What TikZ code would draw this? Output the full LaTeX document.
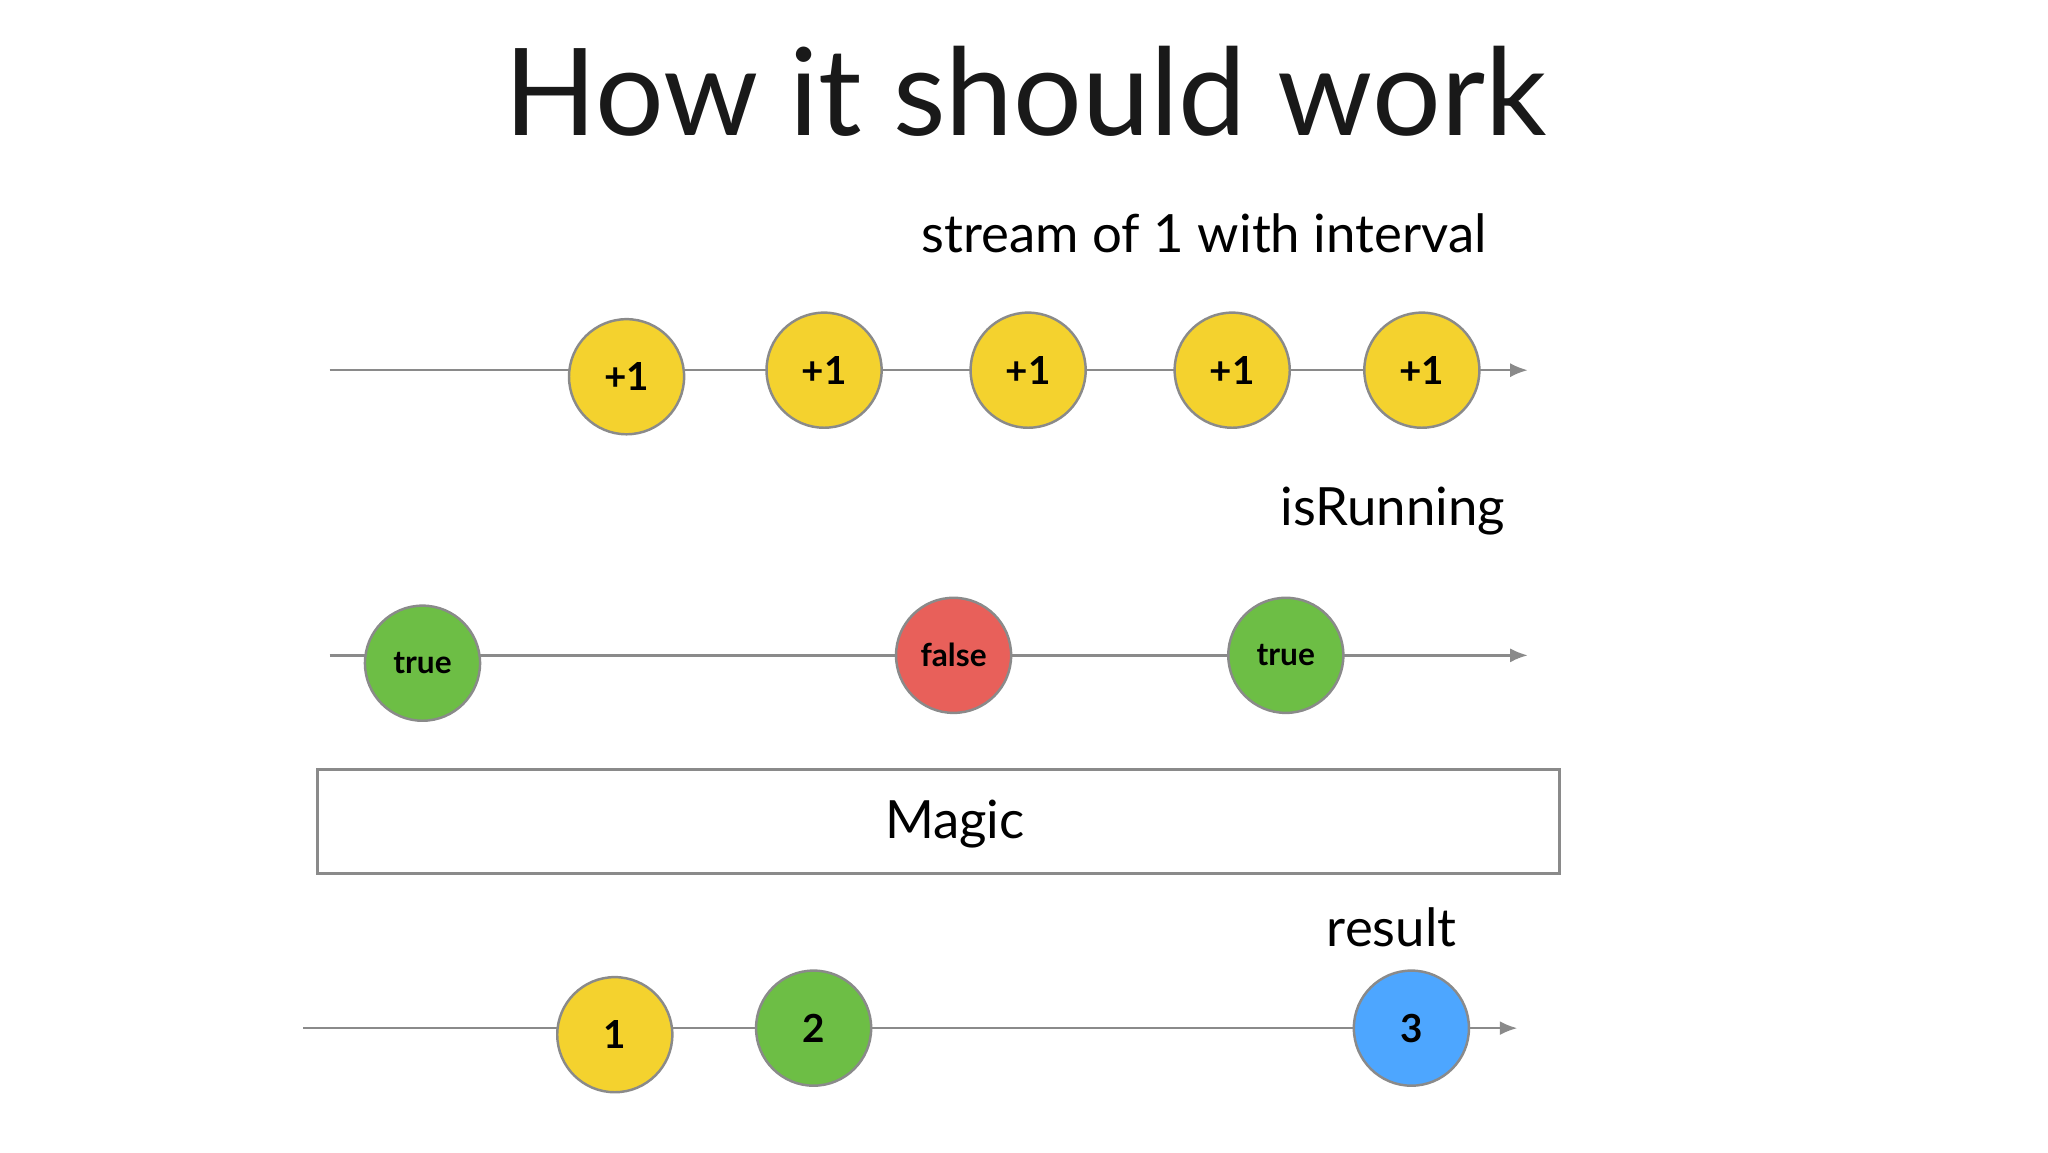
\documentclass[tikz,border=0pt]{standalone}
\usepackage{fontspec}
\setmainfont{Lato}
\usetikzlibrary{arrows.meta}
\definecolor{yel}{HTML}{F4D22E}
\definecolor{grn}{HTML}{6DBE45}
\definecolor{rd}{HTML}{E8605A}
\definecolor{blu}{HTML}{4DA6FF}
\definecolor{ln}{HTML}{8A8A8A}
\begin{document}
\begin{tikzpicture}[x=0.01308cm,y=-0.01308cm,
  tl/.style={draw=ln,line width=0.7pt,-{Latex[length=5pt,width=4pt]}},
  ball/.style={circle,draw=ln,line width=0.7pt,minimum size=88*0.01308cm,inner sep=0pt,font=\bfseries\fontsize{11}{13}\selectfont},
  small/.style={font=\bfseries\fontsize{9}{11}\selectfont},
  lab/.style={anchor=east,font=\fontsize{15}{18}\selectfont}]
\useasboundingbox (0,0) rectangle (1565.7,880.7);
\node[font=\fontsize{34.5}{40}\selectfont,text=black!90] (title) at (784,70) {How it should work};
\node[lab] (l1) at (1146,178) {stream of 1 with interval};
\coordinate (a1) at (252,283); \coordinate (b1) at (1168,283);
\draw[tl] (a1) -- (b1);
\foreach \x/\y [count=\i] in {479/288,630/283,786/283,942/283,1087/283}
  \node[ball,fill=yel] (p\i) at (\x,\y) {+1};
\node[lab] (l2) at (1160,391) {isRunning};
\coordinate (a2) at (252,501); \coordinate (b2) at (1168,501);
\draw[tl] (a2) -- (b2);
\node[ball,small,fill=grn] (t1) at (323,507) {true};
\node[ball,small,fill=rd] (f1) at (729,501) {false};
\node[ball,small,fill=grn] (t2) at (983,501) {true};
\node[draw=ln,line width=0.8pt,minimum width=949*0.01308cm,minimum height=80*0.01308cm,inner sep=0pt] (magic) at (717.5,628) {};
\node[font=\fontsize{15}{18}\selectfont] (mt) at (730,630) {Magic};
\node[lab] (l3) at (1123,709) {result};
\coordinate (a3) at (232,786); \coordinate (b3) at (1160,786);
\draw[tl] (a3) -- (b3);
\node[ball,fill=yel] (r1) at (470,791) {1};
\node[ball,fill=grn] (r2) at (622,786) {2};
\node[ball,fill=blu] (r3) at (1079,786) {3};
\end{tikzpicture}
\end{document}
